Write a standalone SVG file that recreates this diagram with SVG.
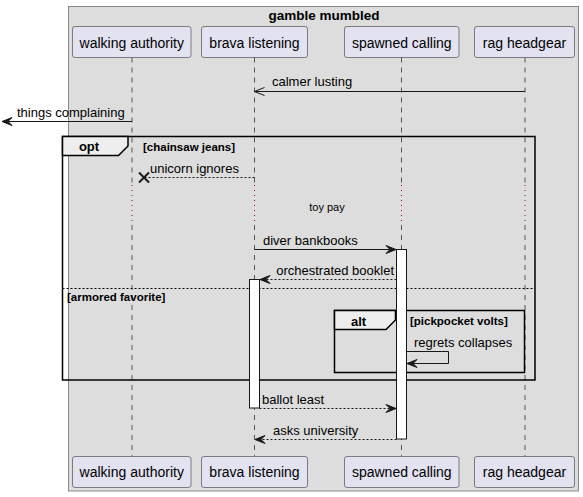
<svg xmlns="http://www.w3.org/2000/svg" width="583" height="497" viewBox="0 0 583 497">
<style>
text{font-family:"Liberation Sans",Arial,sans-serif;fill:#000}
.pname{font-size:14px;text-anchor:middle}
.msg{font-size:13px}
.guard{font-size:11.5px;font-weight:bold}
.kw{font-size:13px;font-weight:bold;text-anchor:middle}
.pbox{fill:#E2E2F0;stroke:#181818;stroke-width:0.5}
.life{stroke:#555;stroke-width:1;stroke-dasharray:5,5;fill:none}
.delay{stroke:#A80036;stroke-width:1;stroke-dasharray:1,4;fill:none}
.line{stroke:#181818;stroke-width:1;fill:none}
.dash{stroke:#181818;stroke-width:1;stroke-dasharray:2,2;fill:none}
.head{fill:#181818;stroke:#181818;stroke-width:1}
.act{fill:#FFFFFF;stroke:#181818;stroke-width:1}
.frame{fill:none;stroke:#000;stroke-width:1.5}
.tab{fill:#EEEEEE;stroke:#000;stroke-width:1.5}
</style>
<g id="box">
<rect x="68.5" y="6.5" width="510" height="484.5" fill="#DDDDDD" stroke="#888888" stroke-width="1"/>
<text x="324" y="19.5" style="font-size:13.5px;font-weight:bold;text-anchor:middle">gamble mumbled</text>
</g>
<g id="lifelines">
<line class="life" x1="132" y1="57.5" x2="132" y2="185"/>
<line class="delay" x1="132" y1="185" x2="132" y2="225"/>
<line class="life" x1="132" y1="225" x2="132" y2="456.5"/>
<line class="life" x1="254.5" y1="57.5" x2="254.5" y2="185"/>
<line class="delay" x1="254.5" y1="185" x2="254.5" y2="225"/>
<line class="life" x1="254.5" y1="225" x2="254.5" y2="456.5"/>
<line class="life" x1="401.5" y1="57.5" x2="401.5" y2="185"/>
<line class="delay" x1="401.5" y1="185" x2="401.5" y2="225"/>
<line class="life" x1="401.5" y1="225" x2="401.5" y2="456.5"/>
<line class="life" x1="525" y1="57.5" x2="525" y2="185"/>
<line class="delay" x1="525" y1="185" x2="525" y2="225"/>
<line class="life" x1="525" y1="225" x2="525" y2="456.5"/>
</g>
<g id="walking-authority">
<rect class="pbox" x="72.5" y="26.5" width="118.5" height="31" rx="2.5"/>
<text class="pname" x="131.75" y="47.5">walking authority</text>
<rect class="pbox" x="72.5" y="456.5" width="118.5" height="31" rx="2.5"/>
<text class="pname" x="131.75" y="477">walking authority</text>
</g>
<g id="brava-listening">
<rect class="pbox" x="201.5" y="26.5" width="106" height="31" rx="2.5"/>
<text class="pname" x="254.5" y="47.5">brava listening</text>
<rect class="pbox" x="201.5" y="456.5" width="106" height="31" rx="2.5"/>
<text class="pname" x="254.5" y="477">brava listening</text>
</g>
<g id="spawned-calling">
<rect class="pbox" x="344.5" y="26.5" width="114.5" height="31" rx="2.5"/>
<text class="pname" x="401.75" y="47.5">spawned calling</text>
<rect class="pbox" x="344.5" y="456.5" width="114.5" height="31" rx="2.5"/>
<text class="pname" x="401.75" y="477">spawned calling</text>
</g>
<g id="rag-headgear">
<rect class="pbox" x="474.5" y="26.5" width="100" height="31" rx="2.5"/>
<text class="pname" x="524.5" y="47.5">rag headgear</text>
<rect class="pbox" x="474.5" y="456.5" width="100" height="31" rx="2.5"/>
<text class="pname" x="524.5" y="477">rag headgear</text>
</g>
<g id="frames">
<rect class="frame" x="62.5" y="136.5" width="472.5" height="243.5"/>
<path class="tab" d="M62.5,136.5 H128 V146 L118.5,155.5 H62.5 Z"/>
<text class="kw" x="89" y="151">opt</text>
<text class="guard" x="143" y="150.5">[chainsaw jeans]</text>
<line x1="62.5" y1="288.5" x2="535" y2="288.5" stroke="#000" stroke-width="1" stroke-dasharray="2,2"/>
<text class="guard" x="67" y="301">[armored favorite]</text>
<rect class="frame" x="334.5" y="310.5" width="190" height="62"/>
<path class="tab" d="M334.5,310.5 H395.5 V320 L386,329.5 H334.5 Z"/>
<text class="kw" x="358.5" y="326">alt</text>
<text class="guard" x="410" y="324.5">[pickpocket volts]</text>
</g>
<g id="activations">
<rect class="act" x="396.5" y="249.5" width="10" height="189.5"/>
<rect class="act" x="249.5" y="279.5" width="10" height="128.5"/>
</g>
<g id="connectors">
<line class="line" x1="525" y1="91.5" x2="254.5" y2="91.5"/>
<polyline class="line" points="264.5,87.5 254.5,91.5 264.5,95.5"/>
<text class="msg" x="272" y="86">calmer lusting</text>

<line class="line" x1="132" y1="121.5" x2="3" y2="121.5"/>
<polygon class="head" points="2,121.5 12,117.5 8,121.5 12,125.5"/>
<text class="msg" x="17" y="117">things complaining</text>

<line class="dash" x1="254.5" y1="177.5" x2="144" y2="177.5"/>
<line x1="139" y1="172.5" x2="149" y2="182.5" stroke="#181818" stroke-width="2"/>
<line x1="139" y1="182.5" x2="149" y2="172.5" stroke="#181818" stroke-width="2"/>
<text class="msg" x="150" y="172.5">unicorn ignores</text>

<text x="327" y="211" style="font-size:11px;text-anchor:middle">toy pay</text>

<line class="line" x1="254.5" y1="249.5" x2="395" y2="249.5"/>
<polygon class="head" points="396,249.5 386,245.5 390,249.5 386,253.5"/>
<text class="msg" x="263" y="245">diver bankbooks</text>

<line class="dash" x1="396.5" y1="279.5" x2="261" y2="279.5"/>
<polygon class="head" points="260,279.5 270,275.5 266,279.5 270,283.5"/>
<text class="msg" x="394" y="275" text-anchor="end">orchestrated booklet</text>

<polyline class="line" points="406.5,351.5 448.5,351.5 448.5,363.5 408,363.5"/>
<polygon class="head" points="407,363.5 417,359.5 413,363.5 417,367.5"/>
<text class="msg" x="414" y="347">regrets collapses</text>

<line class="dash" x1="259.5" y1="408.5" x2="395" y2="408.5"/>
<polygon class="head" points="396,408.5 386,404.5 390,408.5 386,412.5"/>
<text class="msg" x="262" y="404">ballot least</text>

<line class="dash" x1="396.5" y1="439.5" x2="256" y2="439.5"/>
<polygon class="head" points="255,439.5 265,435.5 261,439.5 265,443.5"/>
<text class="msg" x="273" y="434.5">asks university</text>
</g>
</svg>
